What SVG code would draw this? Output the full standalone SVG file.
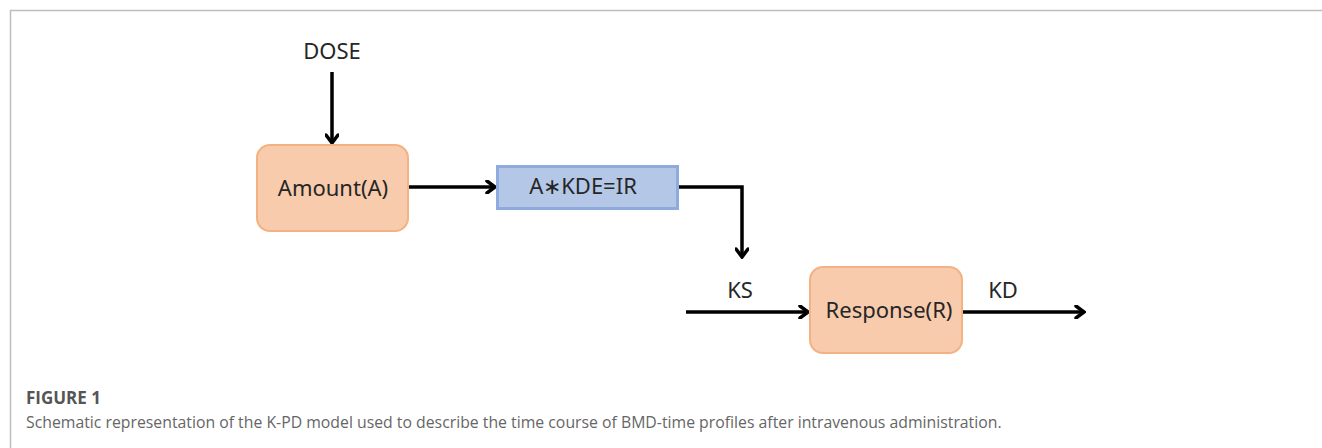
<svg xmlns="http://www.w3.org/2000/svg" width="1322" height="448" viewBox="0 0 1322 448">
<style>
.lbl{font-family:"Noto Sans","Open Sans",sans-serif;font-size:22px;fill:#262626}
.orange{fill:#f8cbad;stroke:#f4b183;stroke-width:2}
.blue{fill:#b4c7e7;stroke:#8faadc;stroke-width:3}
.conn{fill:none;stroke:#000;stroke-width:3.5}
.cap{font-family:"Open Sans","Noto Sans",sans-serif;font-size:15.8px;fill:#666}
.capb{font-family:"Open Sans","Noto Sans",sans-serif;font-size:17px;font-weight:bold;fill:#555}
</style>
<defs>
<marker id="ah" markerWidth="12" markerHeight="14" refX="10" refY="7" orient="auto" markerUnits="userSpaceOnUse">
<polyline points="2,1 10,7 2,13" fill="none" stroke="#000" stroke-width="3.5" stroke-linecap="round" stroke-linejoin="miter"/>
</marker>
</defs>
<rect width="1322" height="448" fill="#fff"/>
<path d="M10.5,448 V10.5 H1322" fill="none" stroke="#bdbdbd" stroke-width="1.5"/>
<g id="connectors">
<line class="conn" x1="332" y1="72" x2="332" y2="143" marker-end="url(#ah)"/>
<line class="conn" x1="409" y1="187" x2="495" y2="187" marker-end="url(#ah)"/>
<polyline class="conn" points="678,187 742,187 742,257" marker-end="url(#ah)"/>
<line class="conn" x1="686" y1="312" x2="808" y2="312" marker-end="url(#ah)"/>
<line class="conn" x1="962" y1="312" x2="1084" y2="312" marker-end="url(#ah)"/>
</g>
<g id="dose"><text class="lbl" x="332" y="59" text-anchor="middle">DOSE</text></g>
<g id="amount">
<rect class="orange" x="257" y="145" width="151" height="86" rx="13"/>
<text class="lbl" x="333" y="196" text-anchor="middle">Amount(A)</text>
</g>
<g id="ir">
<rect class="blue" x="497.5" y="166.5" width="180" height="42"/>
<text class="lbl" x="583" y="194" text-anchor="middle">A∗KDE=IR</text>
</g>
<g id="ks"><text class="lbl" x="740" y="298" text-anchor="middle">KS</text></g>
<g id="response">
<rect class="orange" x="810" y="267" width="152" height="86" rx="13"/>
<text class="lbl" x="889" y="318" text-anchor="middle">Response(R)</text>
</g>
<g id="kd"><text class="lbl" x="1003" y="298" text-anchor="middle">KD</text></g>
<g id="caption">
<text class="capb" x="26" y="404">FIGURE 1</text>
<text class="cap" x="26" y="428">Schematic representation of the K-PD model used to describe the time course of BMD-time profiles after intravenous administration.</text>
</g>
</svg>
